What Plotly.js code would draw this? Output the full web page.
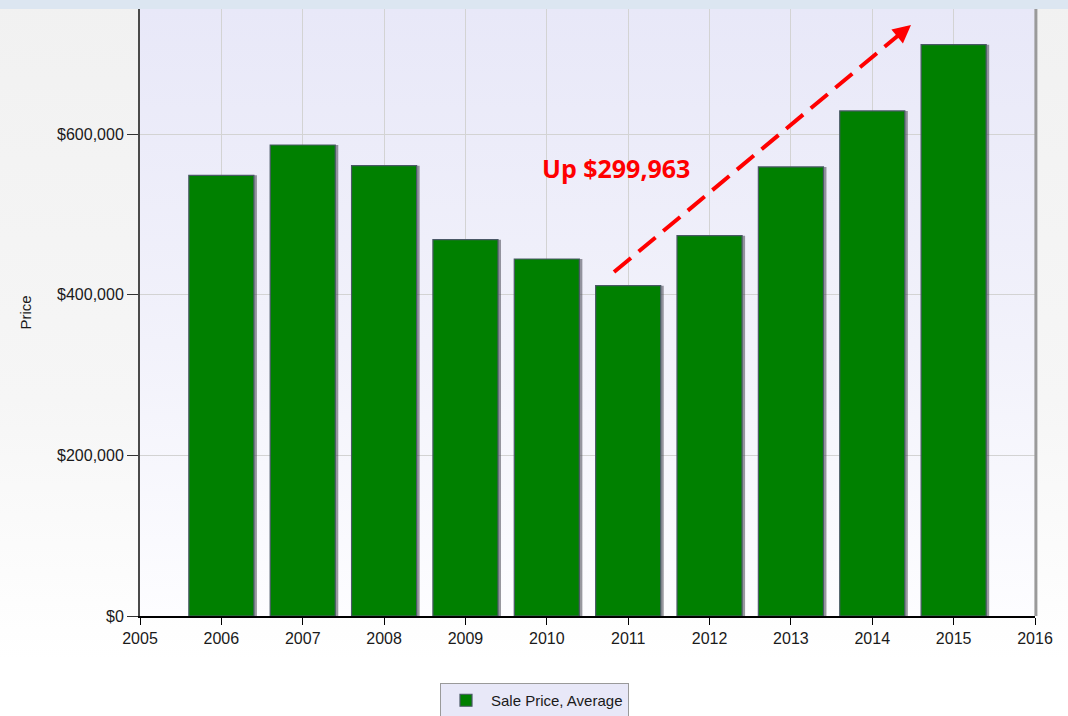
<!DOCTYPE html>
<html>
<head>
<meta charset="utf-8">
<script src="https://cdn.plot.ly/plotly-3.0.1.min.js"></script>
<style>
  html, body { margin: 0; padding: 0; }
  #wrap { position: relative; width: 1068px; height: 716px; overflow: hidden;
          background: linear-gradient(to bottom, #f1f1f1 0px, #f6f6f6 400px, #ffffff 660px, #ffffff 716px); }
  #plotbg { position: absolute; left: 140px; top: 9px; width: 895px; height: 607px;
            background: linear-gradient(to bottom, #e8e8f8 0%, #f2f2fb 55%, #fdfdff 100%); }
  #band { position: absolute; left: 0; top: 0; width: 1068px; height: 9px; background: #dce6f1; z-index: 5; }
  #chart { position: absolute; left: 0; top: 0; width: 1068px; height: 716px; }
</style>
</head>
<body>
<div id="wrap">
  <div id="plotbg"></div>
  <div id="chart"></div>
  <div id="band"></div>
</div>
<script>
// Data
const years = [2006, 2007, 2008, 2009, 2010, 2011, 2012, 2013, 2014, 2015];
const avgSalePrice = [548600, 586300, 560600, 468500, 444400, 411200, 473400, 559000, 628700, 711163];
const seriesName = 'Sale Price, Average';
const xTicks = [2005, 2006, 2007, 2008, 2009, 2010, 2011, 2012, 2013, 2014, 2015, 2016];
const yTicks = [0, 200000, 400000, 600000];
const yTickLabels = ['$0', '$200,000', '$400,000', '$600,000'];
const annotationText = 'Up $299,963';

const tickFont = { family: 'Liberation Sans, Arial, sans-serif', size: 16, color: '#1a1a1a' };

const shadow = {
  type: 'bar', x: years, y: avgSalePrice,
  width: 0.8, offset: -0.4 + 3 / 81.36,
  marker: { color: 'rgba(70,70,80,0.55)', line: { width: 0 } },
  showlegend: false, hoverinfo: 'skip'
};
const bars = {
  type: 'bar', x: years, y: avgSalePrice, name: seriesName,
  width: 0.8,
  marker: { color: '#008000', line: { color: '#4a5866', width: 1.2 } },
  showlegend: true
};

const layout = {
  width: 1068, height: 716,
  margin: { l: 140, r: 33, t: 9, b: 100, pad: 0, autoexpand: false },
  paper_bgcolor: 'rgba(0,0,0,0)',
  plot_bgcolor: 'rgba(0,0,0,0)',
  barmode: 'overlay',
  showlegend: true,
  xaxis: {
    range: [2005, 2016], tickvals: xTicks, ticktext: xTicks.map(String),
    showgrid: true, gridcolor: '#d3d3d3', gridwidth: 1,
    showline: true, linecolor: '#000000', linewidth: 2,
    ticks: 'outside', ticklen: 7, tickcolor: '#000000', tickwidth: 1,
    zeroline: false, tickfont: tickFont, fixedrange: true, automargin: false
  },
  yaxis: {
    range: [0, 755600], tickvals: yTicks, ticktext: yTickLabels,
    showgrid: true, gridcolor: '#d3d3d3', gridwidth: 1,
    showline: true, linecolor: '#4a4a4a', linewidth: 2,
    ticks: 'outside', ticklen: 11, tickcolor: '#333333', tickwidth: 1,
    zeroline: false, tickfont: tickFont, automargin: false,
    title: { text: 'Price', font: { family: 'Liberation Sans, Arial, sans-serif', size: 15, color: '#1a1a1a' }, standoff: 22 },
    fixedrange: true
  },
  legend: {
    orientation: 'h', xref: 'container', yref: 'container',
    x: 440 / 1068, xanchor: 'left', y: 1 - 683 / 716, yanchor: 'top',
    bgcolor: '#e8e8f8', bordercolor: '#9a9a9a', borderwidth: 1,
    itemwidth: 40,
    font: { family: 'Liberation Sans, Arial, sans-serif', size: 15, color: '#1a1a1a' }
  },
  shapes: [
    { type: 'line', xref: 'paper', yref: 'paper', x0: 1.001, x1: 1.001, y0: 0, y1: 1,
      line: { color: '#9a9a9a', width: 3 } },
    { type: 'line', xref: 'x', yref: 'y', x0: 2010.826, y0: 428200, x1: 2014.36, y1: 726100,
      line: { color: '#ff0000', width: 4, dash: '22px,10px' } }
  ],
  annotations: [
    { xref: 'paper', yref: 'paper', x: 0.532, y: 0.738, xanchor: 'center', yanchor: 'middle',
      text: annotationText, showarrow: false,
      font: { family: 'Open Sans, Noto Sans, sans-serif', size: 25, color: '#ff0000', weight: 'bold' } },
    { xref: 'x', yref: 'y', x: 2014.476, y: 735700, ax: -12, ay: 10, text: '',
      showarrow: true, arrowhead: 2, arrowsize: 0.9, arrowwidth: 4, arrowcolor: '#ff0000', standoff: 0 }
  ]
};

Plotly.newPlot('chart', [shadow, bars], layout, { displayModeBar: false, staticPlot: true });
</script>
</body>
</html>
